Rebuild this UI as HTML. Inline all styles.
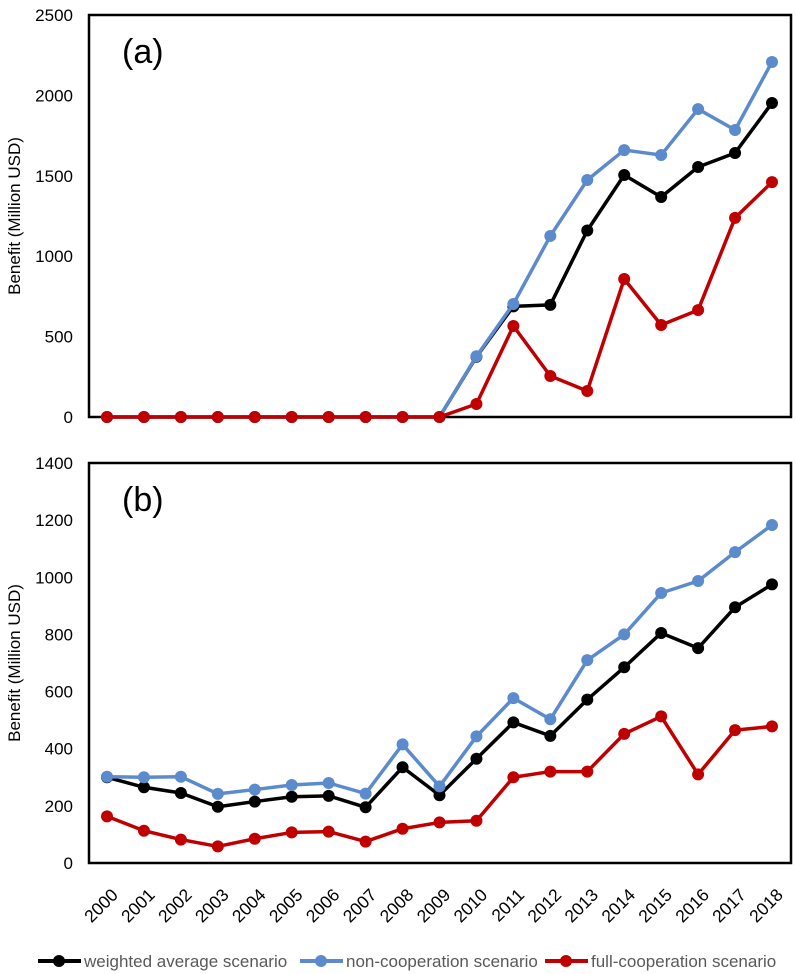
<!DOCTYPE html>
<html><head><meta charset="utf-8"><style>
body{margin:0;background:#fff;}
svg{display:block;font-family:"Liberation Sans",Arial,sans-serif;}
</style></head><body>
<svg id="chart" width="797" height="974" viewBox="0 0 797 974"></svg>
<script>
const years=[2000,2001,2002,2003,2004,2005,2006,2007,2008,2009,2010,2011,2012,2013,2014,2015,2016,2017,2018];
const aWeighted=[0,0,0,0,0,0,0,0,0,0,375,688,697,1160,1505,1368,1555,1642,1953];
const aNonCoop=[0,0,0,0,0,0,0,0,0,0,378,703,1126,1474,1660,1629,1915,1785,2208];
const aFullCoop=[0,0,0,0,0,0,0,0,0,0,81,566,255,162,858,572,665,1238,1461];
const bWeighted=[300,265,245,197,215,232,235,195,335,237,365,492,445,572,685,805,752,895,975];
const bNonCoop=[302,300,302,242,257,273,280,243,415,268,443,577,503,710,800,945,987,1088,1183];
const bFullCoop=[163,113,82,58,85,107,110,75,120,142,148,300,320,320,452,513,310,465,478];
const aTicks=[0,500,1000,1500,2000,2500];
const bTicks=[0,200,400,600,800,1000,1200,1400];
const colors={w:"#000000",n:"#5b8bcd",f:"#c00000"};
const svg=document.getElementById('chart');
const NS="http://www.w3.org/2000/svg";
function mk(t,a,p){const e=document.createElementNS(NS,t);for(const k in a)e.setAttribute(k,a[k]);(p||svg).appendChild(e);return e;}
const X0=89,X1=791;
function xs(i){return 107+i*(772-107)/(years.length-1);}
function panel(name,top,bottom,max,ticks,label,series){
  const g=mk('g',{});
  
  
  const ys=v=>bottom-(v/max)*(bottom-top);
  const box=mk('rect',{x:X0,y:top,width:X1-X0,height:bottom-top,fill:'none',stroke:'#000','stroke-width':2.5},g);
  
  
  ticks.forEach(t=>{
    const tx=mk('text',{x:73,y:ys(t)+6,'text-anchor':'end','font-size':17,fill:'#000'},g);
    tx.textContent=t;
    
    
  });
  const yl=mk('text',{transform:`translate(20,${(top+bottom)/2}) rotate(-90)`,'text-anchor':'middle','font-size':17,fill:'#000'},g);
  yl.textContent='Benefit (Million USD)';
  
  
  const pl=mk('text',{x:122,y:top+48,'font-size':34,fill:'#000'},g);
  pl.textContent=label;
  
  
  series.forEach(([vals,col,sname])=>{
    const pts=vals.map((v,i)=>xs(i)+','+ys(v)).join(' ');
    const line=mk('polyline',{points:pts,fill:'none',stroke:col,'stroke-width':3.5,'stroke-linejoin':'round'},g);
    
    
    vals.forEach((v,i)=>{
      const c=mk('circle',{cx:xs(i),cy:ys(v),r:6,fill:col},g);
      
      
    });
  });
}
panel('panel-a',15,417,2500,aTicks,'(a)',[[aWeighted,colors.w,'weighted'],[aNonCoop,colors.n,'non-cooperation'],[aFullCoop,colors.f,'full-cooperation']]);
panel('panel-b',463,863,1400,bTicks,'(b)',[[bWeighted,colors.w,'weighted'],[bNonCoop,colors.n,'non-cooperation'],[bFullCoop,colors.f,'full-cooperation']]);
years.forEach((y,i)=>{
  const t=mk('text',{transform:`translate(${xs(i)+12},${896}) rotate(-45)`,'text-anchor':'end','font-size':17.5,fill:'#000'});
  t.textContent=y;
  
  
});
const leg=[['weighted average scenario',colors.w,38],['non-cooperation scenario',colors.n,300],['full-cooperation scenario',colors.f,545]];
leg.forEach(([txt,col,x])=>{
  const g=mk('g',{});
  
  
  mk('line',{x1:x,y1:961,x2:x+43,y2:961,stroke:col,'stroke-width':4},g);
  mk('circle',{cx:x+21,cy:961,r:6,fill:col},g);
  const t=mk('text',{x:x+46,y:967,'font-size':17,fill:'#595959'},g);
  t.textContent=txt;
});
</script>
</body></html>
